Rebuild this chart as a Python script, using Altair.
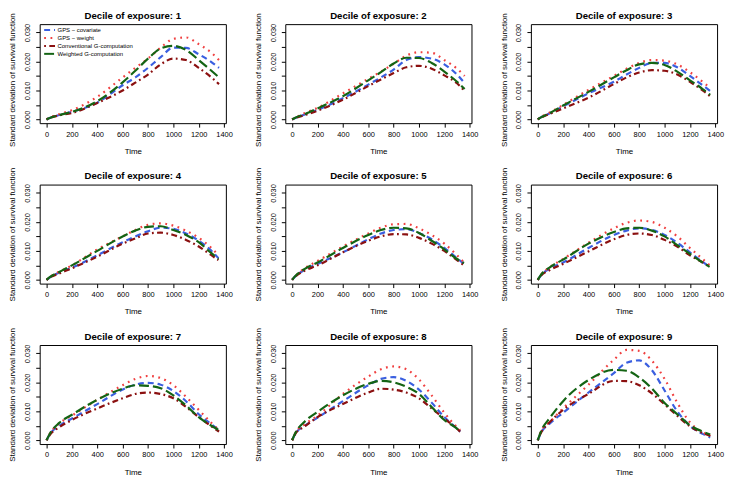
import altair as alt
import pandas as pd

FONT = "Liberation Sans"

METHODS = ["GPS − covariate", "GPS − weight", "Conventional G-computation", "Weighted G-computation"]
COLORS = ["#3a5fe0", "#f04040", "#8b1010", "#146414"]
DASHES = [[6, 4], [1.8, 4.6], [1.8, 3.4, 6, 3.4], [10, 4]]

DECILES = [1, 2, 3, 4, 5, 6, 7, 8, 9]
TIME = [0, 25, 100, 200, 400, 600, 700, 800, 900, 1000, 1100, 1200, 1300]
END_T = [1360, 1360, 1360, 1355, 1355, 1355, 1360, 1325, 1360]

GPS_COV = [
    [0, .0005, .0015, .0026, .0058, .0118, .0145, .0178, .0215, .0248, .0247, .0225, .0198, .0178],
    [0, .0005, .0017, .0033, .0073, .0120, .0145, .0172, .0205, .0215, .0210, .0190, .0155, .0125],
    [0, .0007, .0022, .0045, .0090, .0130, .0155, .0178, .0195, .0195, .0180, .0150, .0118, .0098],
    [0, .0008, .0025, .0042, .0085, .0130, .0150, .0168, .0180, .0176, .0160, .0135, .0100, .0075],
    [0, .0012, .0035, .0055, .0095, .0140, .0160, .0172, .0175, .0162, .0140, .0110, .0075, .0055],
    [0, .0015, .0040, .0060, .0110, .0155, .0170, .0178, .0172, .0155, .0128, .0095, .0062, .0045],
    [0, .0020, .0050, .0075, .0125, .0175, .0192, .0198, .0192, .0170, .0135, .0090, .0055, .0035],
    [0, .0022, .0050, .0078, .0135, .0190, .0212, .0218, .0205, .0175, .0130, .0080, .0040, .0030],
    [0, .0025, .0060, .0095, .0165, .0232, .0268, .0276, .0242, .0172, .0100, .0050, .0022, .0010],
]
GPS_WEIGHT = [
    [0, .0006, .0018, .0032, .0078, .0145, .0178, .0210, .0248, .0278, .0283, .0260, .0230, .0205],
    [0, .0006, .0022, .0040, .0090, .0140, .0165, .0192, .0220, .0232, .0230, .0205, .0175, .0150],
    [0, .0008, .0025, .0050, .0102, .0150, .0175, .0195, .0205, .0203, .0190, .0163, .0130, .0108],
    [0, .0009, .0028, .0050, .0105, .0150, .0172, .0190, .0195, .0187, .0170, .0145, .0110, .0085],
    [0, .0013, .0040, .0065, .0115, .0160, .0180, .0192, .0193, .0178, .0155, .0125, .0085, .0060],
    [0, .0017, .0045, .0072, .0128, .0178, .0197, .0205, .0200, .0180, .0150, .0110, .0072, .0050],
    [0, .0022, .0058, .0085, .0140, .0190, .0212, .0222, .0215, .0190, .0150, .0105, .0060, .0035],
    [0, .0025, .0055, .0085, .0160, .0220, .0245, .0255, .0245, .0210, .0155, .0095, .0045, .0035],
    [0, .0030, .0065, .0110, .0192, .0278, .0312, .0309, .0275, .0212, .0130, .0062, .0028, .0015],
]
CONV_G = [
    [0, .0005, .0014, .0022, .0057, .0100, .0127, .0155, .0190, .0210, .0205, .0178, .0145, .0122],
    [0, .0005, .0015, .0030, .0068, .0115, .0138, .0160, .0180, .0185, .0175, .0152, .0125, .0098],
    [0, .0006, .0020, .0038, .0075, .0122, .0145, .0162, .0170, .0168, .0155, .0130, .0100, .0080],
    [0, .0008, .0022, .0040, .0080, .0125, .0143, .0160, .0163, .0155, .0138, .0115, .0085, .0068],
    [0, .0011, .0032, .0050, .0095, .0135, .0150, .0158, .0157, .0145, .0125, .0100, .0068, .0050],
    [0, .0014, .0035, .0055, .0098, .0140, .0155, .0160, .0155, .0138, .0115, .0085, .0060, .0045],
    [0, .0018, .0045, .0070, .0110, .0145, .0160, .0165, .0160, .0145, .0115, .0080, .0048, .0030],
    [0, .0022, .0048, .0080, .0125, .0165, .0178, .0175, .0165, .0145, .0110, .0075, .0040, .0030],
    [0, .0025, .0065, .0105, .0160, .0205, .0204, .0190, .0162, .0124, .0085, .0048, .0025, .0015],
]
WEIGHTED_G = [
    [0, .0005, .0015, .0026, .0063, .0128, .0168, .0210, .0245, .0254, .0240, .0205, .0168, .0145],
    [0, .0006, .0018, .0038, .0080, .0135, .0163, .0193, .0213, .0212, .0195, .0165, .0130, .0105],
    [0, .0007, .0023, .0048, .0095, .0145, .0170, .0190, .0195, .0188, .0165, .0135, .0105, .0085],
    [0, .0009, .0027, .0050, .0100, .0150, .0170, .0183, .0185, .0172, .0155, .0130, .0092, .0072],
    [0, .0013, .0038, .0060, .0110, .0155, .0172, .0180, .0178, .0162, .0135, .0105, .0072, .0058],
    [0, .0017, .0045, .0070, .0125, .0165, .0178, .0180, .0170, .0150, .0120, .0090, .0060, .0045],
    [0, .0022, .0060, .0088, .0140, .0178, .0190, .0188, .0180, .0155, .0120, .0080, .0050, .0035],
    [0, .0025, .0065, .0098, .0155, .0195, .0205, .0200, .0185, .0160, .0115, .0070, .0040, .0030],
    [0, .0030, .0080, .0135, .0208, .0243, .0240, .0217, .0179, .0129, .0090, .0052, .0030, .0020],
]

SERIES = [GPS_COV, GPS_WEIGHT, CONV_G, WEIGHTED_G]

rows = []
for pi, dec in enumerate(DECILES):
    times = TIME + [END_T[pi]]
    for mi, m in enumerate(METHODS):
        vals = SERIES[mi][pi]
        for t, v in zip(times, vals):
            rows.append({"decile": dec, "method": m, "order": mi, "time": t, "sd": v})
df = pd.DataFrame(rows)

legend = alt.Legend(
    orient="none", legendX=6, legendY=2, title=None,
    labelFont=FONT, labelFontSize=6, labelColor="black",
    symbolType="M-2,0H2", symbolSize=30, symbolStrokeWidth=2,
    rowPadding=-1, labelOffset=4, padding=0, labelLimit=200,
)

W, H = 188, 100
yvals = [0, 0.005, 0.01, 0.015, 0.02, 0.025, 0.03]

panels = []
for dec in DECILES:
    first_row = dec <= 3
    ytitle_y = H / 2 + 6 if first_row else H / 2
    title_off = -8 if first_row else -14
    ch = alt.Chart(df).transform_filter(alt.datum.decile == dec).mark_line(
        strokeWidth=2.2, clip=True, interpolate="monotone"
    ).encode(
        x=alt.X("time:Q",
                scale=alt.Scale(domain=[-54, 1414], nice=False, zero=False),
                axis=alt.Axis(values=list(range(0, 1401, 200)), title="Time", format="d",
                              labelPadding=3, titlePadding=10, labelOverlap=False,
                              labelFlush=False)),
        y=alt.Y("sd:Q",
                scale=alt.Scale(domain=[-0.0013, 0.0329], nice=False, zero=False),
                axis=alt.Axis(values=yvals, title="Standard deviation of survival function",
                              labelAngle=-90, labelPadding=4, titlePadding=7,
                              titleY=ytitle_y,
                              labelOverlap=False, labelFlush=False,
                              labelExpr="round(datum.value*1000) % 10 == 0 ? format(datum.value, '.3f') : ''")),
        color=alt.Color("method:N", scale=alt.Scale(domain=METHODS, range=COLORS), legend=legend),
        strokeDash=alt.StrokeDash("method:N", scale=alt.Scale(domain=METHODS, range=DASHES), legend=legend),
        detail="order:O",
    ).properties(
        width=W, height=H,
        title=alt.TitleParams(f"Decile of exposure: {dec}", font=FONT, fontSize=9.7,
                              fontWeight="bold", color="black", offset=title_off, frame="group"),
    )
    panels.append(ch)

chart = alt.concat(*panels, columns=3, spacing={"row": 62, "column": 60}, bounds="flush").properties(
    padding=0, background="white"
).configure_view(
    stroke="black", strokeWidth=1
).configure_axis(
    domain=False, grid=False, tickColor="black", tickSize=4, tickWidth=1,
    labelColor="black", labelFont=FONT, labelFontSize=7.5,
    titleFont=FONT, titleFontSize=8, titleFontWeight="normal", titleColor="black",
)

chart.save("out.html", embed_options={"renderer": "svg", "actions": False})
